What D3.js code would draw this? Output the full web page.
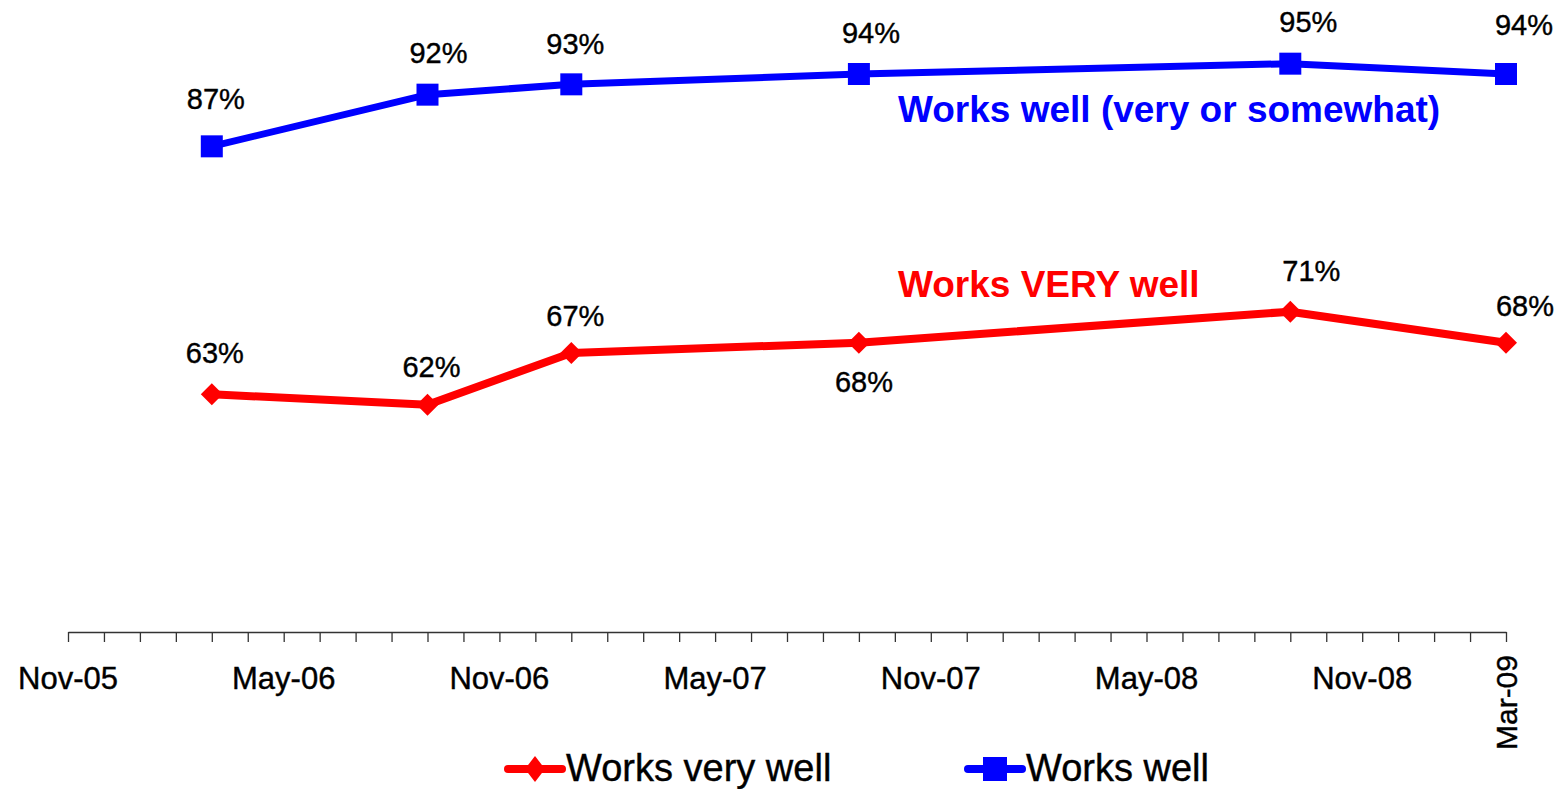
<!DOCTYPE html>
<html>
<head>
<meta charset="utf-8">
<script src="https://cdn.jsdelivr.net/npm/d3@7"></script>
<style>
  body { margin: 0; background: #fff; }
  svg { display: block; font-family: "Liberation Sans", Arial, sans-serif; }
</style>
</head>
<body>
<svg width="1562" height="789"></svg>
<script>
// survey dates (year-month) and values in percent
const dates = ["2006-03", "2006-09", "2007-01", "2007-09", "2008-09", "2009-03"]
const worksWell = [87, 92, 93, 94, 95, 94]
const worksVeryWell = [63, 62, 67, 68, 71, 68]

// axis labels every six months, plus the last month
const tickLabels = ["2005-11", "2006-05", "2006-11", "2007-05", "2007-11", "2008-05", "2008-11"]
const lastLabel = "2009-03"

// small nudges for the value labels, picked by hand like in the original
const wellNudge = [[4, -48], [11, -42], [4, -41], [12, -41], [18, -42], [18, -49]]
const veryNudge = [[3, -42], [4, -38], [4, -37], [5, 39], [21, -41], [19, -37]]

const svg = d3.select("svg")
const parse = d3.timeParse("%Y-%m")
const fmt = d3.timeFormat("%b-%y")
const start = parse("2005-11")
const monthIdx = s => d3.timeMonth.count(start, parse(s))

// scales
const x = d3.scaleLinear()
  .domain([0, monthIdx(lastLabel)])
  .range([68, 1506])

const y = d3.scaleLinear()
  .domain([40, 100])
  .range([632, 12])

// x axis with a tick every month
const axisX = d3.axisBottom(x)
  .tickValues(d3.range(0, monthIdx(lastLabel) + 1))
  .tickSizeInner(10)
  .tickSizeOuter(0)
  .tickFormat("")

const axisG = svg.append("g")
  .attr("transform", "translate(0,632)")
  .call(axisX)
axisG.select(".domain").attr("stroke", "#333").attr("stroke-width", 1.3)
axisG.selectAll(".tick line").attr("stroke", "#333").attr("stroke-width", 1.3)

svg.selectAll("text.xlab")
  .data(tickLabels)
  .enter()
  .append("text")
  .attr("class", "xlab")
  .attr("x", d => x(monthIdx(d)))
  .attr("y", 689)
  .attr("text-anchor", "middle")
  .attr("font-size", 31)
  .attr("stroke", "#000").attr("stroke-width", 0.4)
  .text(d => fmt(parse(d)))

svg.append("text")
  .attr("transform", `translate(${x(monthIdx(lastLabel)) + 11},655) rotate(-90)`)
  .attr("text-anchor", "end")
  .attr("font-size", 30)
  .attr("stroke", "#000").attr("stroke-width", 0.4)
  .text(fmt(parse(lastLabel)))

// lines
const series = [
  { name: "well", values: worksWell, color: "#0000ff", width: 7, nudge: wellNudge, marker: "square" },
  { name: "very", values: worksVeryWell, color: "#ff0000", width: 8, nudge: veryNudge, marker: "diamond" }
]

const line = d3.line()
  .x((d, i) => x(monthIdx(dates[i])))
  .y(d => y(d))

const markerPath = function (type) {
  if (type === "square") return "M-11,-11H11V11H-11Z"
  return "M0,-11L11,0L0,11L-11,0Z"
}

series.forEach(s => {
  svg.append("path")
    .datum(s.values)
    .attr("fill", "none")
    .attr("stroke", s.color)
    .attr("stroke-width", s.width)
    .attr("stroke-linejoin", "round")
    .attr("d", line)

  svg.selectAll("path.m-" + s.name)
    .data(s.values)
    .enter()
    .append("path")
    .attr("class", "m-" + s.name)
    .attr("transform", (d, i) => `translate(${x(monthIdx(dates[i]))},${y(d)})`)
    .attr("d", markerPath(s.marker))
    .attr("fill", s.color)

  svg.selectAll("text.v-" + s.name)
    .data(s.values)
    .enter()
    .append("text")
    .attr("class", "v-" + s.name)
    .attr("x", (d, i) => x(monthIdx(dates[i])) + s.nudge[i][0])
    .attr("y", (d, i) => y(d) + s.nudge[i][1])
    .attr("dy", "0.36em")
    .attr("text-anchor", "middle")
    .attr("font-size", 29)
    .attr("stroke", "#000").attr("stroke-width", 0.4)
    .text(d => d + "%")
})

// series titles inside the plot
svg.append("text")
  .attr("x", 898).attr("y", 122)
  .attr("font-size", 37).attr("font-weight", "bold")
  .attr("fill", "#0000ff")
  .text("Works well (very or somewhat)")

svg.append("text")
  .attr("x", 898).attr("y", 297)
  .attr("font-size", 37).attr("font-weight", "bold")
  .attr("fill", "#ff0000")
  .text("Works VERY well")

// legend at the bottom
const legend = [
  { label: "Works very well", color: "#ff0000", marker: "diamond", x: 505 },
  { label: "Works well", color: "#0000ff", marker: "square", x: 965 }
]

const legG = svg.selectAll("g.leg")
  .data(legend)
  .enter()
  .append("g")
  .attr("class", "leg")
  .attr("transform", d => `translate(${d.x},769)`)

legG.append("line")
  .attr("x1", 3).attr("x2", 57)
  .attr("stroke", d => d.color)
  .attr("stroke-width", 8)
  .attr("stroke-linecap", "round")

legG.append("path")
  .attr("transform", "translate(30,0)")
  .attr("d", d => d.marker === "square" ? "M-12,-12H12V12H-12Z" : "M0,-13L10,0L0,13L-10,0Z")
  .attr("fill", d => d.color)

legG.append("text")
  .attr("x", 61)
  .attr("y", 12)
  .attr("font-size", 38)
  .attr("stroke", "#000").attr("stroke-width", 0.4)
  .text(d => d.label)
</script>
</body>
</html>
